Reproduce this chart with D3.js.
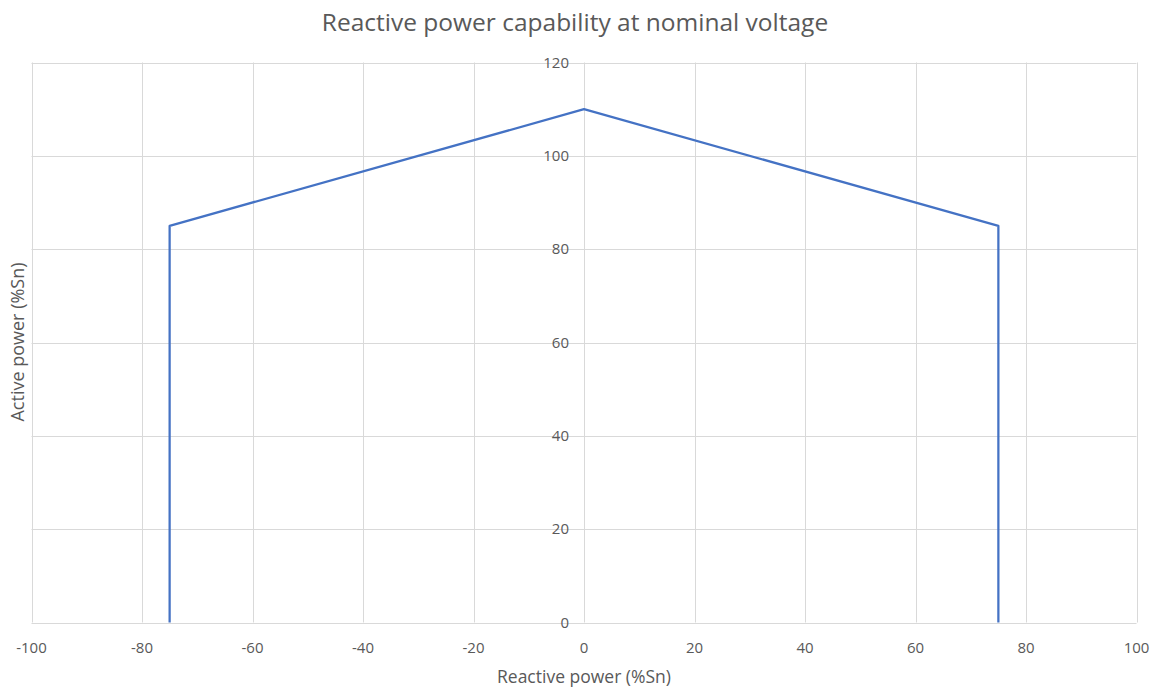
<!DOCTYPE html>
<html lang="en">
<head>
    <meta charset="UTF-8">
    <title>Reactive power capability at nominal voltage</title>
    <script src="https://d3js.org/d3.v7.min.js"></script>
    <style>
        body { margin: 0; background: #fff; }
        text { font-family: "Open Sans", "Liberation Sans", sans-serif; fill: #595959; }
    </style>
</head>
<body>
    <script>
        // capability curve points
        const reactive = [-75, -75, 0, 75, 75];
        const active = [0, 85, 110, 85, 0];
        const xTicks = [-100, -80, -60, -40, -20, 0, 20, 40, 60, 80, 100];
        const yTicks = [0, 20, 40, 60, 80, 100, 120];

        const width = 1160;
        const height = 688;
        const margin = { top: 62.5, right: 23.5, bottom: 65.5, left: 31.5 };

        const svg = d3.select("body").append("svg")
            .attr("width", width)
            .attr("height", height);

        const x = d3.scaleLinear().domain([-100, 100]).range([margin.left, width - margin.right]);
        const y = d3.scaleLinear().domain([0, 120]).range([height - margin.bottom, margin.top]);

        // gridlines
        svg.append("g").selectAll("line.v")
            .data(xTicks)
            .enter().append("line")
            .attr("x1", d => Math.round(x(d)) + 0.5)
            .attr("x2", d => Math.round(x(d)) + 0.5)
            .attr("y1", y(120))
            .attr("y2", y(0))
            .attr("stroke", "#d9d9d9")
            .attr("stroke-width", 1);

        svg.append("g").selectAll("line.h")
            .data(yTicks)
            .enter().append("line")
            .attr("x1", x(-100))
            .attr("x2", x(100))
            .attr("y1", d => Math.round(y(d)) + 0.5)
            .attr("y2", d => Math.round(y(d)) + 0.5)
            .attr("stroke", "#d9d9d9")
            .attr("stroke-width", 1);

        // x tick labels
        svg.append("g").selectAll("text")
            .data(xTicks)
            .enter().append("text")
            .attr("x", d => x(d))
            .attr("y", 653)
            .attr("text-anchor", "middle")
            .style("font-size", "15px")
            .text(d => d);

        // y tick labels, next to the zero line
        svg.append("g").selectAll("text")
            .data(yTicks)
            .enter().append("text")
            .attr("x", x(0) - 15)
            .attr("y", d => y(d) + 5)
            .attr("text-anchor", "end")
            .style("font-size", "15px")
            .text(d => d);

        const pts = reactive.map((r, i) => [r, active[i]]);
        const line = d3.line().x(d => x(d[0])).y(d => y(d[1]));

        svg.append("path")
            .datum(pts)
            .attr("d", line)
            .attr("fill", "none")
            .attr("stroke", "#4472c4")
            .attr("stroke-width", 2.25)
            .attr("stroke-linejoin", "round");

        svg.append("text")
            .attr("x", 575)
            .attr("y", 31)
            .attr("text-anchor", "middle")
            .style("font-size", "24.5px")
            .text("Reactive power capability at nominal voltage");

        svg.append("text")
            .attr("x", 584)
            .attr("y", 683)
            .attr("text-anchor", "middle")
            .style("font-size", "17.5px")
            .text("Reactive power (%Sn)");

        svg.append("text")
            .attr("transform", "translate(24,342) rotate(-90)")
            .attr("text-anchor", "middle")
            .style("font-size", "18px")
            .text("Active power (%Sn)");
    </script>
</body>
</html>
